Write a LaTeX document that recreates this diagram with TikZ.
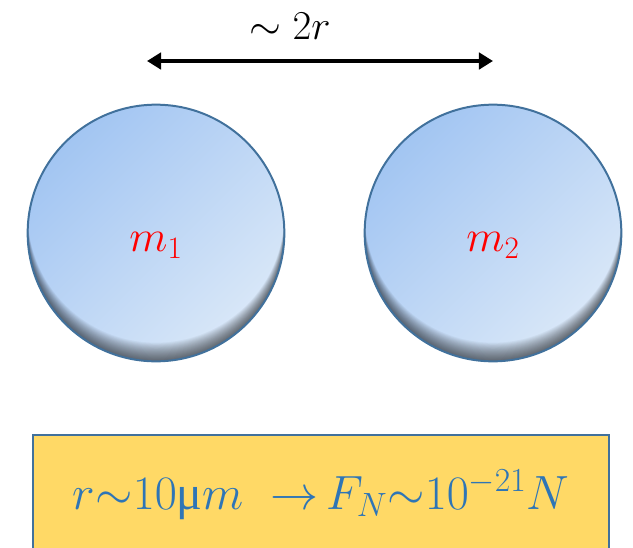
\documentclass[tikz,border=0pt]{standalone}
\usepackage{fix-cm}
\usepackage{amsmath,amssymb}
\usepackage{fontspec}
\usetikzlibrary{arrows.meta}
\newfontfamily\mufont{Liberation Serif}
\definecolor{ballline}{HTML}{41719C}
\definecolor{balldark}{HTML}{A2C5F2}
\definecolor{balllight}{HTML}{DAE8F8}
\definecolor{boxfill}{HTML}{FFD966}
\definecolor{boxtext}{HTML}{2E75B6}

\begin{document}
\begin{tikzpicture}[x=0.03cm,y=-0.03cm,
    ball/.style={circle,draw=ballline,line width=1.7pt,minimum size=7.7cm,inner sep=0pt,
        top color=balldark,bottom color=balllight,shading angle=45,
        text=red,font=\fontsize{38}{44}\selectfont,text height=38pt,text depth=6pt,
        path picture={\foreach \s in {1,...,20}{
            \fill[black,opacity=0.035,even odd rule]
                (path picture bounding box.center) circle[radius=3.85cm]
                ([yshift=\s*0.028cm]path picture bounding box.center) circle[radius=3.85cm];}}},
    gap/.style={line width=3.4pt,{Triangle[length=12pt,width=14pt]}-{Triangle[length=12pt,width=14pt]}}]
    \useasboundingbox (0,0) rectangle (633,547);
    % the two masses
    \node[ball] (m1) at (156,233) {$m_1$};
    \node[ball] (m2) at (493,233) {$m_2$};
    % separation
    \coordinate (gapL) at (147,61);
    \coordinate (gapR) at (493,61);
    \draw[gap] (gapL) -- (gapR);
    \node[font=\fontsize{35}{40}\selectfont] (dist) at (290,26) {$\sim 2r$};
    % estimate
    \node[draw=ballline,fill=boxfill,line width=1.7pt,anchor=north west,
        minimum width=17.28cm,minimum height=3.6cm,text=boxtext,
        font=\fontsize{41}{46}\selectfont] (est) at (32,434)
        {$r{\sim}10\text{\mufont μ}m\;\;{\rightarrow}\,F_N{\sim}10^{-21}N$};
\end{tikzpicture}
\end{document}
